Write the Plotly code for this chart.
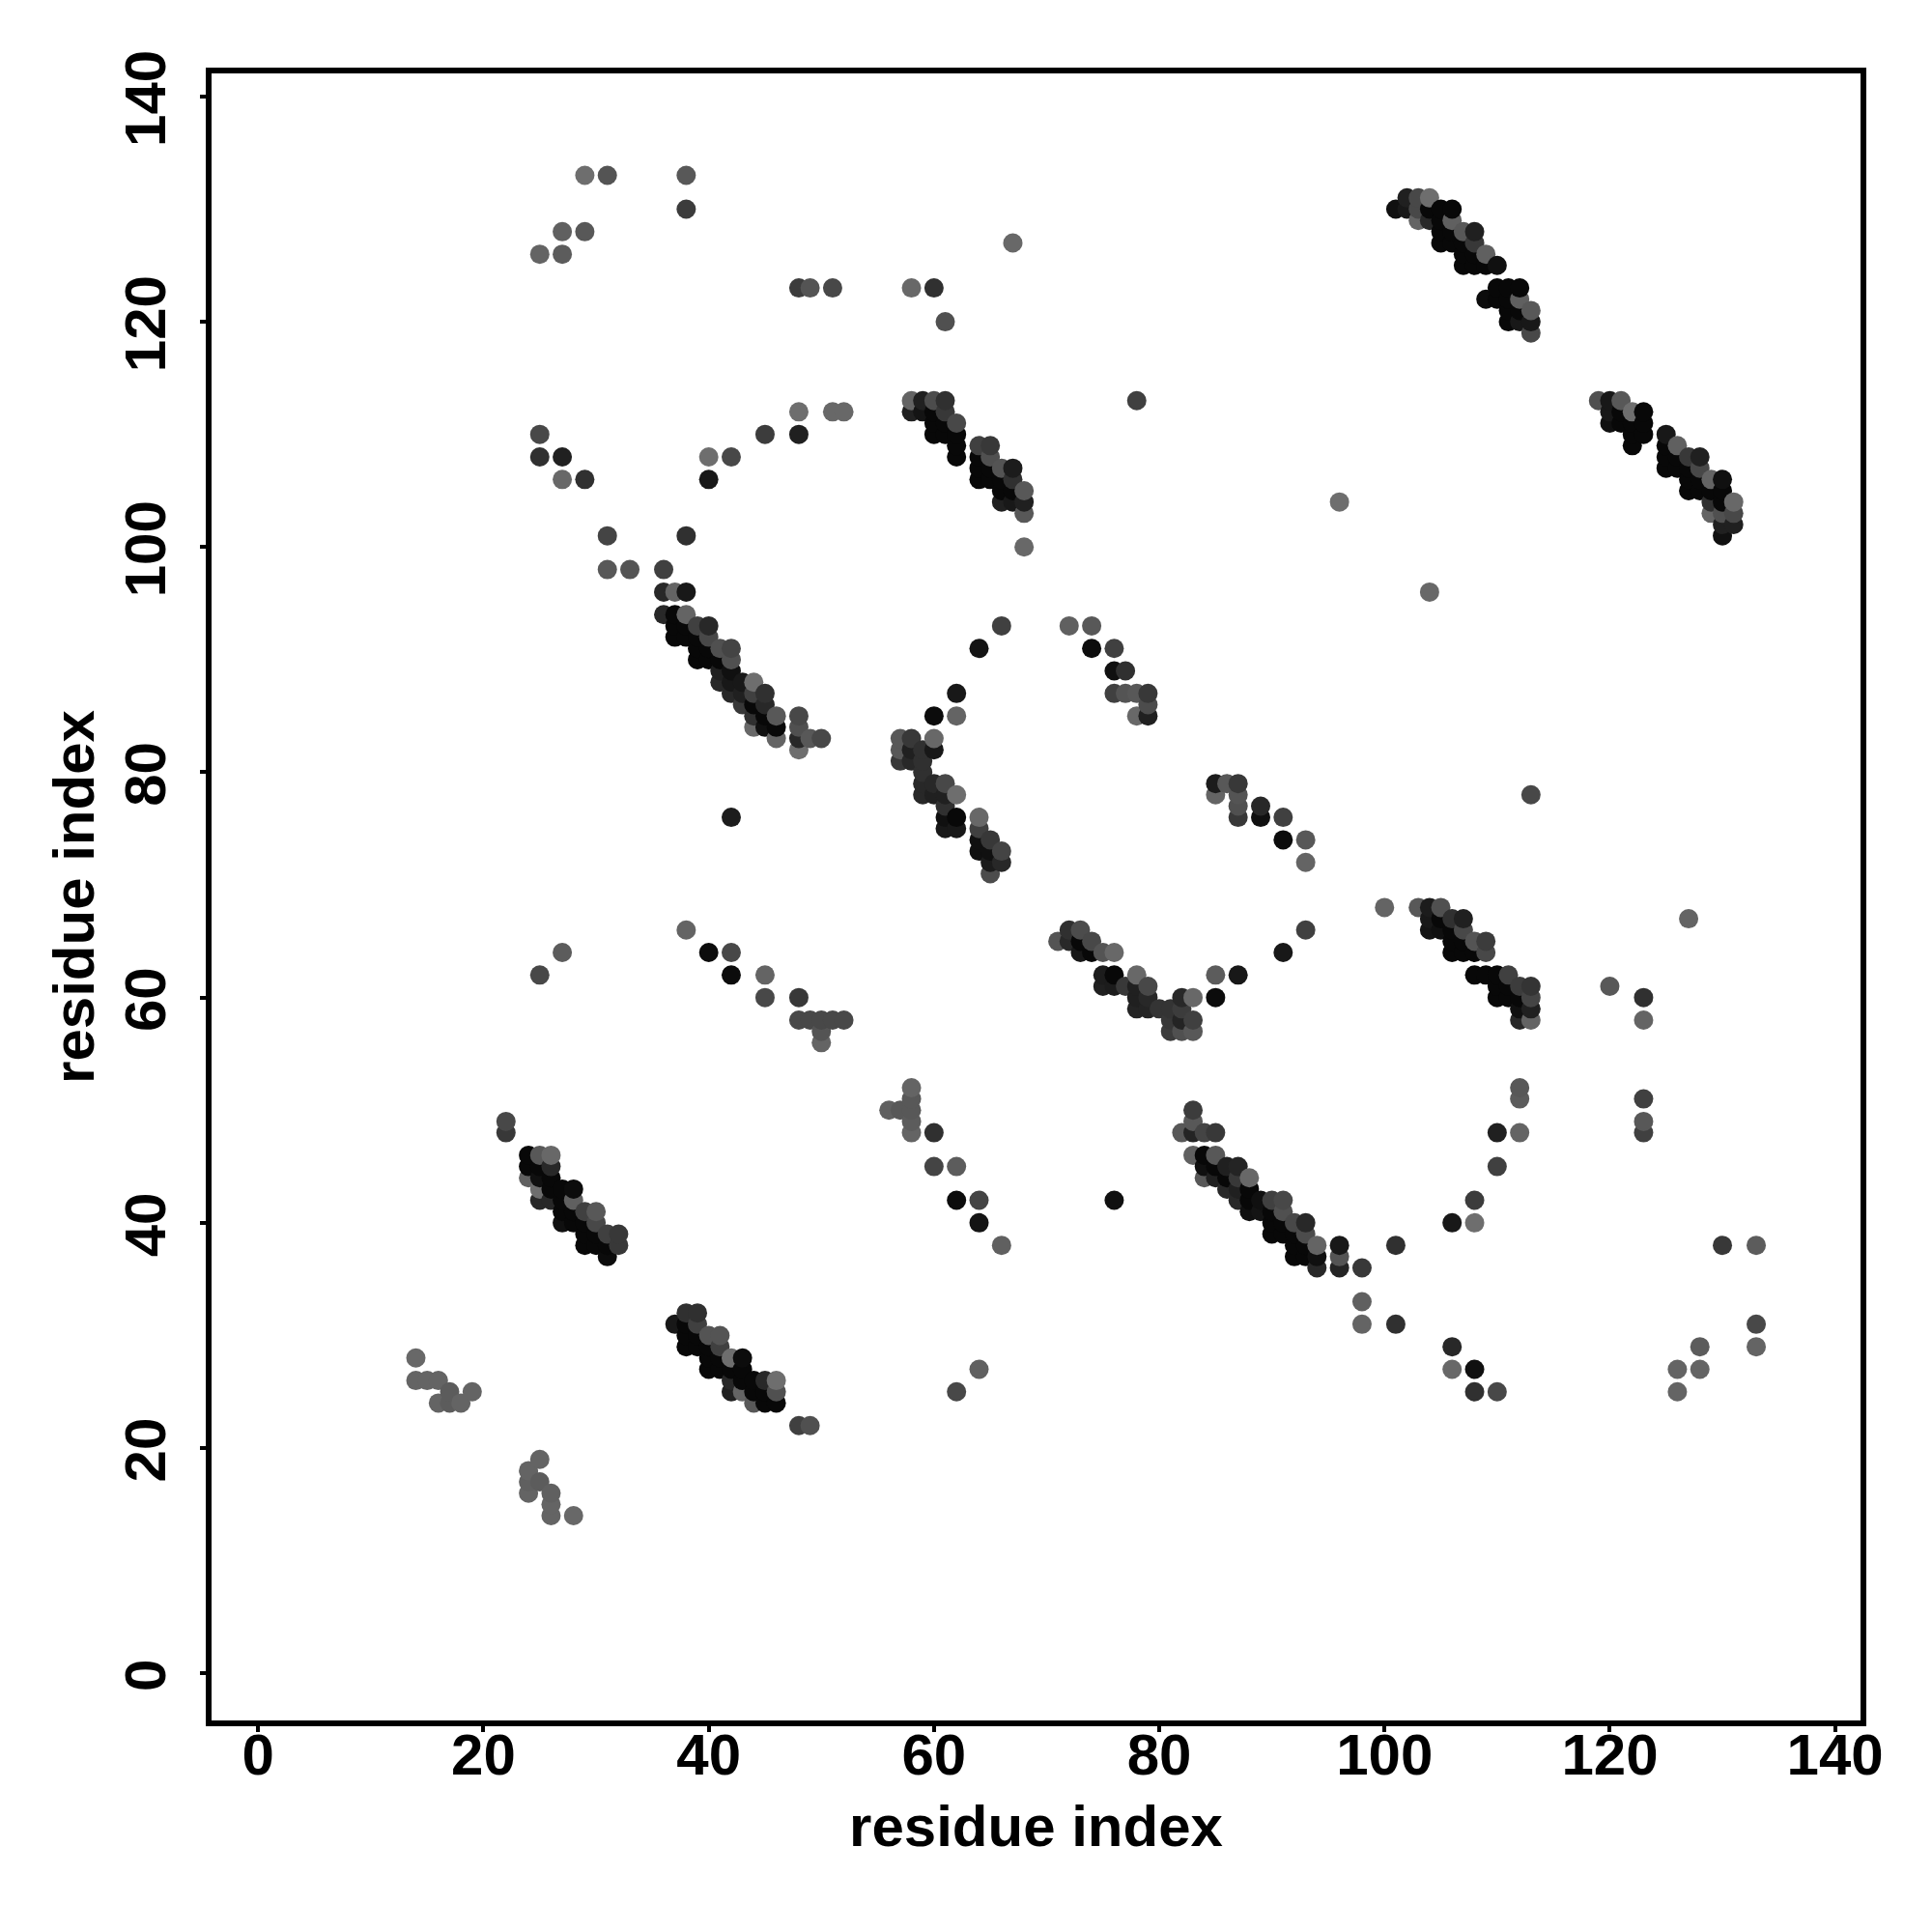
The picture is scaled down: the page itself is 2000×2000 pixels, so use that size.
import plotly.graph_objects as go

# Each block: residue index (x), residue index (y), grey level of the dot
a_x = [101,102,102,103,103,103,104,104,104,105,105,105,105,106,106,106,106,107,107,107,107,108,108,108,108,109,109,110,
       109,110,110,111,111,111,111,112,112,112,112,113,113,113]
a_y = [130,131,130,131,130,129,131,130,129,130,129,128,127,130,129,128,127,128,127,126,125,128,127,126,125,126,125,125,
       122,123,122,123,122,121,120,123,122,121,120,121,120,119]
a_g = [16,32,24,72,72,100,110,8,40,8,8,8,8,8,96,8,8,88,8,8,8,32,56,8,8,96,8,16,
       12,8,8,8,8,8,8,8,96,8,24,88,24,72]

b_x = [119,120,120,120,121,121,121,122,122,122,122,123,123,123,
       125,125,125,125,126,126,126,127,127,127,127,128,128,128,128,129,129,129,129,130,130,130,130,130,130,131,131,131]
b_y = [113,113,112,111,113,112,111,112,111,110,109,112,111,110,
       110,109,108,107,109,108,107,108,107,106,105,108,107,106,105,106,105,104,103,106,105,104,103,102,101,104,103,102]
b_g = [80,24,24,16,88,8,8,110,8,8,8,8,8,8,
       24,8,8,8,96,8,8,56,8,8,8,32,72,8,8,100,8,48,100,16,8,8,80,32,16,104,72,32]

c_x = [58,58,59,59,60,60,60,60,61,61,61,61,62,62,62,62,
       64,64,64,64,65,65,65,65,66,66,66,66,67,67,67,67,68,68,68,68]
c_y = [113,112,113,112,113,112,111,110,113,112,111,110,111,110,109,108,
       109,108,107,106,109,108,107,106,107,106,105,104,107,106,105,104,105,104,103,100]
c_g = [100,32,32,20,76,8,8,8,48,56,8,8,72,8,8,8,
       64,8,8,8,56,80,8,8,84,8,8,32,28,48,8,24,88,32,88,104]

d_x = [36,36,36,37,37,37,37,38,38,38,38,39,39,39,39,40,40,40,40,41,41,41,41,42,42,42,42,42,43,43,43,44,44,44,44,44,45,45,45,45,46,46,46,48,48,48,48,49,50]
d_y = [98,96,94,96,94,93,92,96,94,93,92,93,92,91,90,93,92,91,90,91,90,89,88,91,90,89,88,87,88,87,86,88,87,86,85,84,87,86,85,84,85,84,83,85,84,83,82,83,83]
d_g = [64,40,40,100,8,8,8,24,100,8,8,64,8,8,8,40,72,8,8,80,8,32,40,68,80,16,24,40,24,32,56,110,64,8,48,104,48,40,8,16,88,8,100,72,80,40,110,88,72]

e_x = [57,57,57,58,58,58,59,59,59,59,59,60,60,60,60,60,61,61,61,61,61,62,62,62,62,62,64,64,64,64,64,65,65,65,65,66,66,66]
e_y = [83,82,81,83,82,81,82,81,80,79,78,85,83,82,79,78,79,78,77,76,75,87,85,78,76,75,91,76,75,74,73,74,73,72,71,93,73,72]
e_g = [88,88,56,56,32,40,48,48,48,40,40,12,104,24,40,32,72,32,48,16,24,24,100,110,8,24,20,104,64,16,16,56,16,28,76,64,68,40]

f_x = [22,22,24,24,24,25,25,25,25,25,26,26,26,26,26,27,27,27,27,28,28,28,28,29,29,29,29,30,30,30,30,31,31,31,32,32]
f_y = [49,48,46,45,44,46,45,44,43,42,46,45,44,43,42,43,42,41,40,43,42,41,40,41,40,39,38,41,40,39,38,39,38,37,39,38]
f_g = [72,56,8,8,96,88,8,16,110,40,104,40,8,8,40,8,8,8,16,12,96,8,8,64,8,8,8,88,72,8,8,64,8,12,56,56]

g_x = [37,38,38,38,38,39,39,39,39,40,40,40,40,41,41,41,41,42,42,42,42,43,43,43,43,44,44,44,45,45,45,46,46,46,48,49]
g_y = [31,32,31,30,29,32,31,30,29,30,29,28,27,30,29,28,27,28,27,26,25,28,27,26,25,26,25,24,26,25,24,26,25,24,22,22]
g_g = [24,48,8,8,8,48,64,8,8,84,8,8,8,84,64,8,8,110,8,40,32,12,8,8,100,8,8,88,40,8,8,110,80,8,64,80]

h_x = [71,72,72,73,73,73,74,74,75,75,75,76,76,76,77,78,78,78,78,79,79,79,80,81,81,81,82,82,82,82,83,83,83,85,85,87]
h_y = [65,66,65,66,65,64,65,64,64,62,61,64,62,61,61,62,61,60,59,61,60,59,59,59,58,57,60,59,58,57,60,58,57,62,60,62]
h_g = [84,48,40,76,8,24,72,8,84,28,32,104,8,28,56,104,32,32,36,72,40,36,52,52,56,60,40,60,36,80,104,64,88,92,12,24]

i_x = [82,83,83,83,83,84,84,84,84,85,85,85,85,86,86,86,87,87,87,87,88,88,88,88,89,89,90,90,90,90,91,91,91,91,92,92,92,92,93,93,93,93,94,94,94,96,96,96,98,98,98,101,101]
i_y = [48,50,49,48,46,48,46,45,44,48,46,45,44,45,44,43,45,44,43,42,44,43,42,41,42,41,42,41,40,39,42,41,40,39,40,39,38,37,40,39,38,37,38,37,36,38,37,36,36,33,31,38,31]
i_g = [88,60,88,36,96,68,8,16,88,56,88,8,32,32,8,40,36,56,32,40,104,8,8,16,16,20,64,8,8,8,72,80,8,8,72,8,8,8,40,76,8,8,100,16,40,24,84,36,56,96,100,48,48]

j_x = [72,74,74,76,76,77,76,77,78,79,79,79,78,
       85,86,87,85,87,87,87,89,89,91,91,93,93]
j_y = [93,93,91,91,89,89,87,87,87,87,86,85,85,
       79,79,79,78,78,77,76,77,76,76,74,74,72]
j_g = [96,88,12,64,16,48,64,84,88,56,76,32,104,
       28,88,56,100,84,80,56,40,16,64,12,88,100]

k_x = [100,103,104,104,104,105,105,105,106,106,106,106,107,107,107,107,108,108,108,109,109,109,110,110,110,111,111,111,112,112,112,112,113,113,113,113]
k_y = [68,68,68,67,66,68,67,66,67,66,65,64,67,66,65,64,65,64,62,65,64,62,62,61,60,62,61,60,61,60,59,58,61,60,59,58]
k_g = [100,88,28,24,20,80,8,16,48,8,8,8,32,72,8,8,84,8,8,60,72,8,8,8,8,64,8,8,60,8,16,40,52,68,32,100]

upper_x = [29,31,38,38,27,29,25,27,48,49,51,58,60,61,67,78,48,51,52,25,45,48,25,27,40,42,27,29,40,31,38,31,33,96,104]
upper_y = [133,133,133,130,128,128,126,126,123,123,123,123,123,120,127,113,112,112,112,110,110,110,108,108,108,108,106,106,106,101,101,98,98,104,96]
upper_g = [110,84,88,60,96,88,100,92,60,84,72,104,48,80,104,64,110,104,104,72,60,32,48,32,110,72,104,48,24,68,48,88,84,110,104]

middle_x = [42,113,38,40,42,42,45,45,48,27,25,48,49,50,51,52,50,50,91,93,120,123,123,123,123,123,127,112,112,112,110,110,108,106,108]
middle_y = [76,78,66,64,64,62,62,60,60,64,62,58,58,58,58,58,57,56,64,66,61,60,58,51,49,48,67,52,51,48,48,45,42,40,40]
middle_g = [28,72,100,12,72,12,100,72,56,92,72,72,72,72,72,72,84,100,24,64,88,48,100,64,88,64,100,88,92,100,32,64,60,24,110]

lower_x = [56,57,58,58,58,58,58,60,60,62,62,64,64,66,62,64,106,106,108,108,110,126,126,128,128,130,133,133,133,76,
           14,14,15,16,17,19,16,17,18,25,24,24,25,24,26,26,26,28]
lower_y = [50,50,52,51,50,49,48,48,45,45,42,42,40,38,25,27,29,27,27,25,25,27,25,29,27,38,38,31,29,42,
           28,26,26,26,25,25,24,24,24,19,18,17,17,16,16,15,14,14]
lower_g = [96,88,100,88,88,92,100,48,68,92,12,68,20,96,72,96,40,104,16,48,72,100,100,92,100,56,92,72,100,16,
           104,100,100,100,92,100,100,92,100,100,100,96,92,100,96,100,100,104]

tick_values = [0, 20, 40, 60, 80, 100, 120, 140]
axis_label = "residue index"

xs = a_x+b_x+c_x+d_x+e_x+f_x+g_x+h_x+i_x+j_x+k_x+upper_x+middle_x+lower_x
ys = a_y+b_y+c_y+d_y+e_y+f_y+g_y+h_y+i_y+j_y+k_y+upper_y+middle_y+lower_y
gs = a_g+b_g+c_g+d_g+e_g+f_g+g_g+h_g+i_g+j_g+k_g+upper_g+middle_g+lower_g
assert len(xs) == len(ys) == len(gs)

order = sorted(range(len(xs)), key=lambda n: (xs[n], ys[n]))
xs = [xs[n] for n in order]
ys = [ys[n] for n in order]
colors = [f"rgb({gs[n]},{gs[n]},{gs[n]})" for n in order]

fig = go.Figure(go.Scatter(
    x=xs, y=ys, mode="markers",
    marker=dict(size=20, color=colors, line=dict(width=0)),
    showlegend=False, hoverinfo="x+y",
))

font = dict(family="Liberation Sans, Arial, sans-serif", size=60, color="black", weight="bold")
axis = dict(
    tickmode="array", tickvals=tick_values, ticktext=[str(t) for t in tick_values],
    showgrid=False, zeroline=False, showline=True, mirror=True,
    linecolor="black", linewidth=6, ticks="outside", ticklen=6, tickwidth=3.5,
    tickcolor="black", tickfont=font,
)
fig.update_layout(
    width=1992, height=1992, autosize=False,
    margin=dict(l=211, r=74, t=68, b=219, pad=0),
    paper_bgcolor="white", plot_bgcolor="white",
    xaxis=dict(axis, range=[-4.14, 142.26], ticklabelstandoff=-28,
               title=dict(text=axis_label, font=font, standoff=22)),
    yaxis=dict(axis, range=[-4.18, 142.05], tickangle=-90, ticklabelstandoff=12, ticklabelshift=11,
               title=dict(text=axis_label, font=font, standoff=2)),
)
fig.write_html("out.html")
